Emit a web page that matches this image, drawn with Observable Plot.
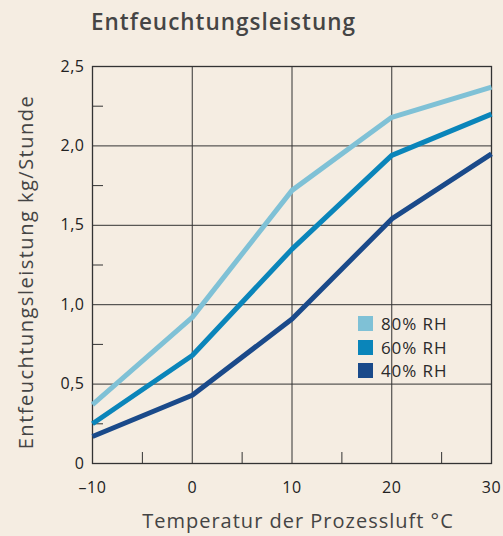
<!DOCTYPE html>
<html><head><meta charset="utf-8">
<script src="https://cdn.jsdelivr.net/npm/d3@7"></script>
<script src="https://cdn.jsdelivr.net/npm/@observablehq/plot@0.6"></script>
<style>
html,body{margin:0;padding:0;background:#f5ede2;}
#wrap{position:relative;width:503px;height:536px;background:#f5ede2;font-family:"Open Sans",sans-serif;}
#title{position:absolute;left:91px;top:6px;font-size:22.5px;font-weight:600;color:#454545;letter-spacing:1px;}
#legend{position:absolute;left:358px;top:312px;font-size:17px;color:#2a2a2a;letter-spacing:0.9px;}
.row{display:flex;align-items:center;height:23.5px;}
.sw{width:15px;height:15px;margin-right:8px;}
</style></head>
<body><div id="wrap"><div id="title">Entfeuchtungsleistung</div><div id="legend"></div></div>
<script>
const temps = [-10, 0, 10, 20, 30];
const series = ["80% RH", "60% RH", "40% RH"];
const rh80 = [0.37, 0.92, 1.72, 2.18, 2.37];
const rh60 = [0.25, 0.68, 1.35, 1.94, 2.20];
const rh40 = [0.17, 0.43, 0.91, 1.54, 1.95];
const colors = ["#7fc1d6", "#0a85ba", "#1a4a8a"];
const yTicks = [0, 0.5, 1.0, 1.5, 2.0, 2.5];
const yMinor = [0.25, 0.75, 1.25, 1.75, 2.25];
const xTicks = [-10, 0, 10, 20, 30];
const xMinor = [-5, 5, 15, 25];
const yLabel = "Entfeuchtungsleistung kg/Stunde";
const xLabel = "Temperatur der Prozessluft \u00b0C";

const values = [rh80, rh60, rh40];
const data = [];
series.forEach((s, i) => temps.forEach((t, j) => data.push({series: s, t, v: values[i][j]})));

const fmt = d => d === 0 ? "0" : d3.format(".1f")(d).replace(".", ",");

const plot = Plot.plot({
  width: 503, height: 536,
  marginTop: 66, marginLeft: 92, marginRight: 12, marginBottom: 73,
  style: {background: "transparent", fontFamily: "'Open Sans', sans-serif", fontSize: "16px", color: "#222"},
  x: {domain: [-10, 30]},
  y: {domain: [0, 2.5]},
  color: {domain: series, range: colors},
  marks: [
    Plot.gridX([0, 10, 20], {stroke: "#333", strokeOpacity: 1, strokeWidth: 1}),
    Plot.gridY([0.5, 1.0, 1.5, 2.0], {stroke: "#333", strokeOpacity: 1, strokeWidth: 1}),
    Plot.axisY(yTicks, {tickSize: 0, tickPadding: 8, tickFormat: fmt, label: null, fontSize: 16}),
    Plot.axisY(yMinor, {tickSize: -11, tickFormat: () => "", label: null, stroke: "#333"}),
    Plot.axisX(xTicks, {tickSize: 0, tickPadding: 18, tickFormat: d => d < 0 ? "\u2013" + Math.abs(d) : String(d), label: null, fontSize: 16}),
    Plot.axisX(xMinor, {tickSize: -11, tickFormat: () => "", label: null, stroke: "#333"}),
    Plot.frame({stroke: "#333", strokeWidth: 1.3}),
    Plot.line(data, {x: "t", y: "v", z: "series", stroke: "series", strokeWidth: 5, strokeLinejoin: "miter", strokeLinecap: "butt"}),
    Plot.text([yLabel], {frameAnchor: "left", textAnchor: "middle", dx: -66, dy: 7, rotate: -90, fontSize: 20, fill: "#444"}),
    Plot.text([xLabel], {frameAnchor: "bottom", textAnchor: "middle", dy: 64, dx: 6, fontSize: 20, fill: "#444"})
  ]
});
d3.select(plot).selectAll("text").each(function() {
  const t = this.textContent;
  if (t === yLabel) this.style.letterSpacing = "1.5px";
  else if (t === xLabel) this.style.letterSpacing = "1.0px";
  else this.style.letterSpacing = "0.5px";
});
document.getElementById("wrap").appendChild(plot);
plot.style.position = "absolute"; plot.style.left = "0"; plot.style.top = "0";

const leg = document.getElementById("legend");
series.forEach((s, i) => {
  const r = document.createElement("div"); r.className = "row";
  r.innerHTML = `<span class="sw" style="background:${colors[i]}"></span><span>${s}</span>`;
  leg.appendChild(r);
});
document.getElementById("wrap").appendChild(leg);
</script></body></html>
